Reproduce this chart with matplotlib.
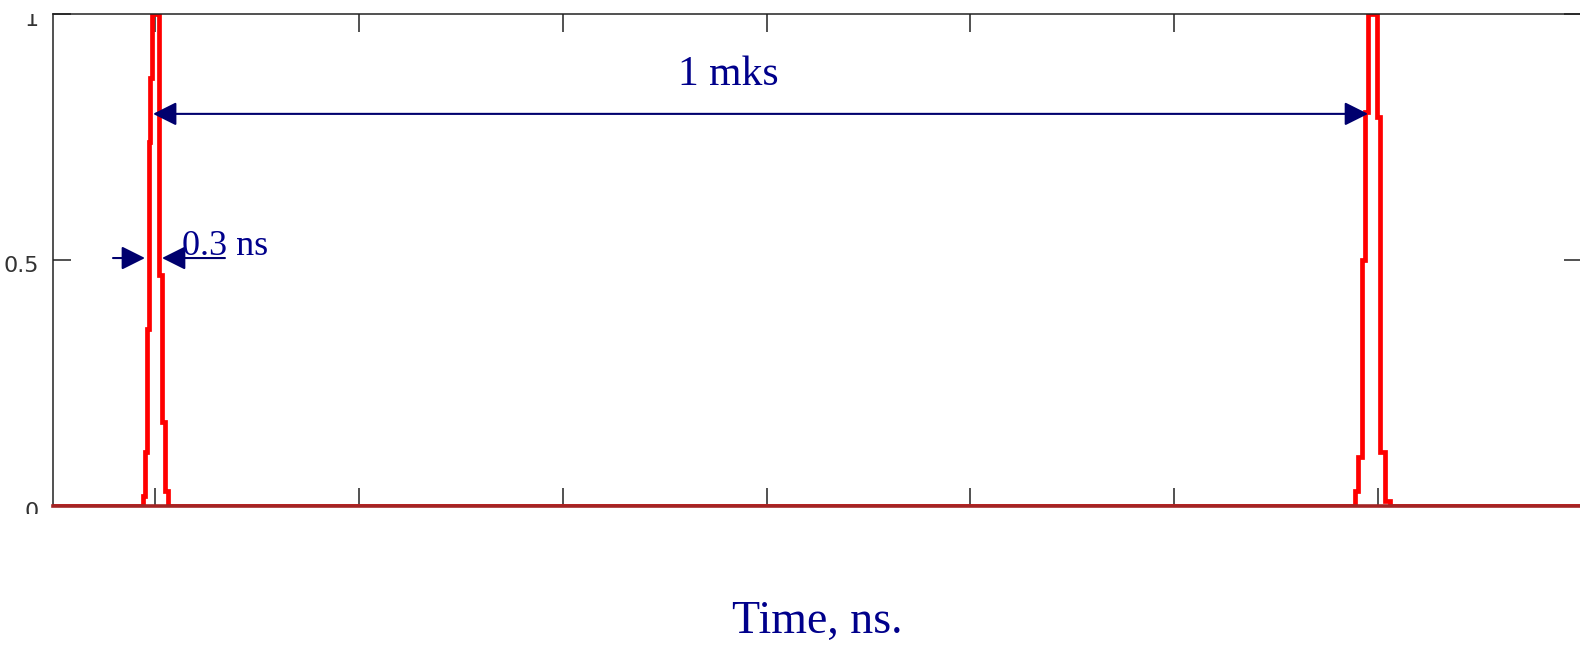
import matplotlib
matplotlib.use("Agg")
import matplotlib.pyplot as plt
from matplotlib.transforms import Bbox, TransformedBbox, ScaledTranslation, blended_transform_factory

# pulse train, time in ns (pulse centres at 0 and 1000 ns), drawn as steps
time_ns = [-83.8,
           -9.9, -7.8, -6.6, -5.3, -4.1, -2.5, 3.3, 5.8, 8.2, 10.3,
           986.0, 988.5, 991.8, 994.1, 996.5, 1004.1, 1006.3, 1010.5, 1014.8,
           1172.2]
amplitude = [0.0,
             0.02, 0.11, 0.36, 0.74, 0.87, 1.0, 0.47, 0.17, 0.03, 0.0,
             0.03, 0.10, 0.50, 0.80, 1.0, 0.79, 0.11, 0.01, 0.0,
             0.0]

x_ticks = [0, 167.5, 335, 502.5, 670, 837.5, 1005]
y_ticks = [0, 0.5, 1]
y_tick_labels = ["0", "0.5", "1"]

period_label = "1 mks"
width_label = "0.3 ns"
x_label = "Time, ns."

period_arrow = (-1.6, 996.8, 0.797)     # x_start, x_end, y
width_arrow_left = (-34.5, -8.2, 0.504)
width_arrow_right = (57.5, 5.75, 0.504)

NAVY = "#00006e"
TEXT_BLUE = "#00008b"
SERIF = ["Liberation Serif", "DejaVu Serif"]

fig = plt.figure(figsize=(15.8, 6.46), dpi=100)
ax = fig.add_axes([53 / 1580, 140 / 646, (1581.5 - 53) / 1580, 492 / 646])

ax.plot(time_ns, amplitude, color="#ff0000", lw=3.4, drawstyle="steps-post",
        solid_joinstyle="miter")

ax.set_xlim(time_ns[0], time_ns[-1])
ax.set_ylim(0, 1)

ax.set_xticks(x_ticks)
ax.set_xticklabels([])
ax.set_yticks(y_ticks)
ax.set_yticklabels(y_tick_labels, family=["Liberation Sans Narrow", "DejaVu Sans"],
                   fontsize=16, color="#333333")
ax.tick_params(axis="both", direction="in", length=13, width=1.1, color="#222222",
               top=True, right=True)
ax.tick_params(axis="y", pad=10)

for side in ["left", "top", "right"]:
    ax.spines[side].set_color("#222222")
    ax.spines[side].set_linewidth(1.1)
ax.spines["bottom"].set_color("#a32424")
ax.spines["bottom"].set_linewidth(2.6)
ax.spines["bottom"].set_zorder(3)

# labels sit a little low and are clipped at the plot's vertical extent,
# like the original screenshot
clip = TransformedBbox(Bbox([[0, -0.017], [1, 1.0]]),
                       blended_transform_factory(fig.transFigure, ax.transAxes))
shift = ScaledTranslation(0, -4 / 72, fig.dpi_scale_trans)
for lbl in ax.get_yticklabels():
    lbl.set_transform(lbl.get_transform() + shift)
    lbl.set_clip_box(clip)
    lbl.set_clip_on(True)
    lbl.set_va("center")

arrow_kw = dict(arrowstyle="-|>,head_length=0.8,head_width=0.4", color=NAVY,
                lw=1.5, shrinkA=0, shrinkB=0, mutation_scale=18)
x0, x1, yy = period_arrow
ax.annotate("", xy=(x1, yy), xytext=(x0, yy),
            arrowprops=dict(arrow_kw, arrowstyle="<|-|>,head_length=0.8,head_width=0.4"))
for x0, x1, yy in (width_arrow_left, width_arrow_right):
    ax.annotate("", xy=(x1, yy), xytext=(x0, yy), arrowprops=arrow_kw)

ax.text(471, 0.856, period_label, ha="center", va="baseline", fontsize=30,
        color=TEXT_BLUE, family=SERIF)
ax.text(22.2, 0.51, width_label, ha="left", va="baseline", fontsize=26,
        color=TEXT_BLUE, family=SERIF)

ax.set_xlabel(x_label, fontsize=33, color=TEXT_BLUE, family=SERIF, va="baseline")
ax.xaxis.set_label_coords(0.5, -127 / 492)

fig.savefig("out.png", dpi=100)
